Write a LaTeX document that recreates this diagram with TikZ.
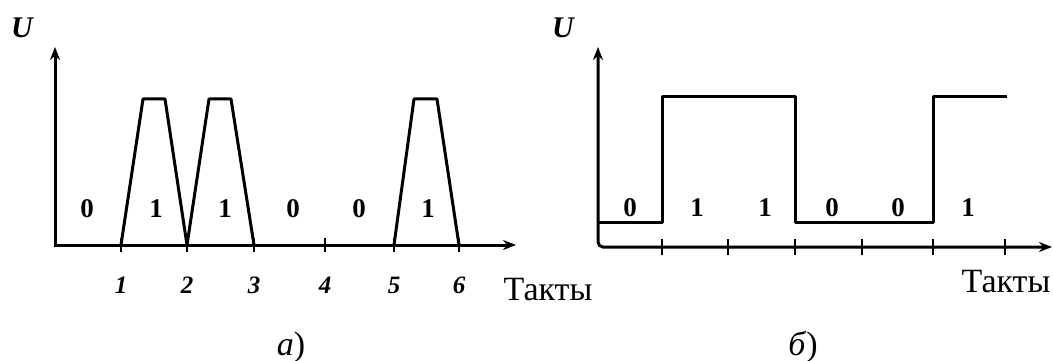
\documentclass[tikz,border=0pt]{standalone}
\usepackage{fontspec}
\setmainfont{Liberation Serif}
\usetikzlibrary{arrows.meta}
\begin{document}
\begin{tikzpicture}[x=1pt,y=-1pt,
 axis/.style={line width=3pt,{Stealth[length=13pt,width=10pt]}-{Stealth[length=13pt,width=10pt]}},
 sig/.style={line width=3pt,line join=round},
 tickmark/.style={line width=2.4pt},
 bit/.style={font=\fontsize{27}{27}\selectfont\bfseries, anchor=base},
 ticklbl/.style={font=\fontsize{25}{25}\selectfont\bfseries\itshape, anchor=base},
 ulbl/.style={font=\fontsize{30}{30}\selectfont\bfseries\itshape},
 tlbl/.style={font=\fontsize{34}{34}\selectfont, anchor=base},
 captext/.style={font=\fontsize{34}{34}\selectfont, anchor=base}]
\useasboundingbox (0,0) rectangle (1053,361);

% ---------- panel a ----------
\coordinate (Lo) at (55,245);
\coordinate (Ly) at (55,47);
\coordinate (Lx) at (516,245);
\draw[axis] (Ly) -- (Lo) -- (Lx);
\foreach \n/\x in {1/121,2/187,3/254,4/325,5/394,6/459}{
  \coordinate (t\n) at (\x,245);
  \draw[tickmark] ([yshift=7pt]t\n) -- ([yshift=-7pt]t\n);
  \node[ticklbl] (tl\n) at (\x,293) {\n};
}
\draw[sig] (t1) -- (143,99) -- (165,99) -- (t2) -- (209,99) -- (231,99) -- (t3);
\draw[sig] (t5) -- (414,99) -- (437,99) -- (t6);
\foreach \n/\x/\b in {1/87/0,2/156/1,3/225/1,4/293/0,5/359/0,6/428/1}{
  \node[bit] (lb\n) at (\x,217) {\b};
}
\node[ulbl] (LU) at (22,28) {U};
\node[tlbl] (LT) at (548,300) {Такты};
\node[captext] (capa) at (291,355) {\textit{а})};

% ---------- panel b ----------
\coordinate (Ro) at (598,247);
\coordinate (Ry) at (598,47);
\coordinate (Rx) at (1052,247);
\draw[axis,rounded corners=5pt] (Ry) -- (Ro) -- (Rx);
\foreach \n/\x in {1/662,2/728,3/795,4/862,5/933,6/1005}{
  \coordinate (r\n) at (\x,247);
  \draw[tickmark] ([yshift=8pt]r\n) -- ([yshift=-8pt]r\n);
}
\coordinate (s0) at (598,222);
\coordinate (s1) at (1007,97);
\draw[sig] (s0) -- (662,222) -- (662,97) -- (795,97) -- (795,222) -- (933,222) -- (933,97) -- (s1);
\foreach \n/\x/\b in {1/630/0,2/697/1,3/765/1,4/832/0,5/898/0,6/968/1}{
  \node[bit] (rb\n) at (\x,216) {\b};
}
\node[ulbl] (RU) at (563,28) {U};
\node[tlbl] (RT) at (1006,292) {Такты};
\node[captext] (capb) at (803,355) {\textit{б})};
\end{tikzpicture}
\end{document}
